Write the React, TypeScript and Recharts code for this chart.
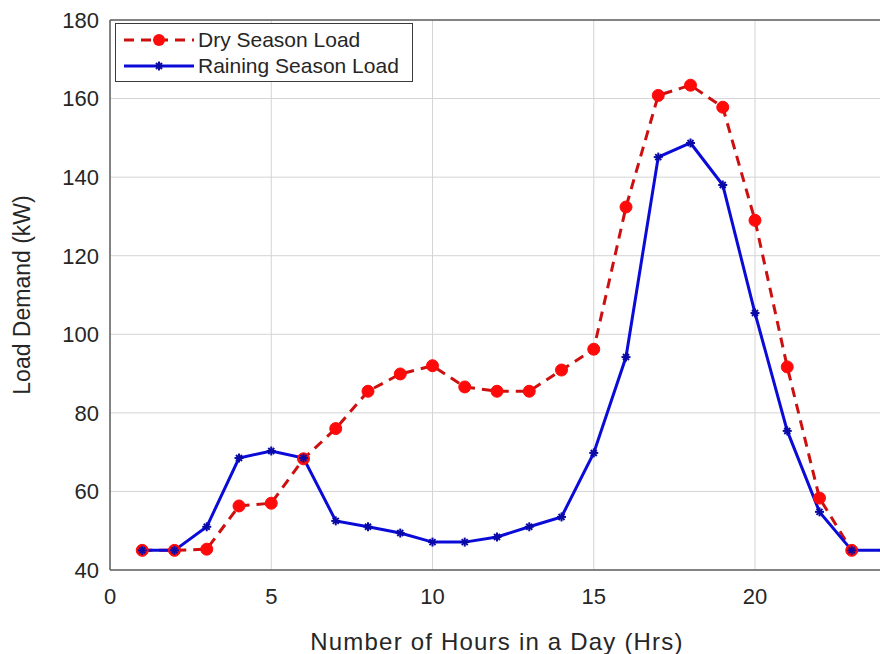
import React from "react";
import {
  CartesianGrid,
  Legend,
  Line,
  LineChart,
  ReferenceLine,
  XAxis,
  YAxis,
} from "recharts";

// hours 1..24 and the two load profiles (kW)
const hours = [1, 2, 3, 4, 5, 6, 7, 8, 9, 10, 11, 12, 13, 14, 15, 16, 17, 18, 19, 20, 21, 22, 23, 24];
const dryLoad = [
  45, 45, 45.3, 56.3, 57, 68.3, 76, 85.5, 89.9, 92, 86.6, 85.5, 85.5, 90.9, 96.2,
  132.4, 160.8, 163.4, 157.8, 129, 91.7, 58.3, 45, null,
];
const rainLoad = [
  45, 45, 51, 68.5, 70.3, 68.5, 52.5, 51, 49.4, 47.1, 47.1, 48.4, 51, 53.5, 69.8,
  94.2, 145.1, 148.7, 138, 105.4, 75.4, 54.8, 45, 45,
];
const xTicks = [0, 5, 10, 15, 20];
const yTicks = [40, 60, 80, 100, 120, 140, 160, 180];

const data = hours.map((h, i) => ({ hour: h, dry: dryLoad[i], rain: rainLoad[i] }));

const FONT = '"Liberation Sans", Arial, Helvetica, sans-serif';
const RED_LINE = "#cc1010";
const RED_DOT = "#ff0a0a";
const BLUE = "#0b0bd8";

function StarDot(props: any) {
  const { cx, cy } = props;
  if (cx == null || cy == null) return null;
  const r = 4.5;
  return (
    <g stroke="#0a0aa8" strokeWidth={2}>
      <line x1={cx - r} y1={cy} x2={cx + r} y2={cy} />
      <line x1={cx} y1={cy - r} x2={cx} y2={cy + r} />
      <line x1={cx - 3} y1={cy - 3} x2={cx + 3} y2={cy + 3} />
      <line x1={cx - 3} y1={cy + 3} x2={cx + 3} y2={cy - 3} />
    </g>
  );
}

function RoundDot(props: any) {
  const { cx, cy } = props;
  if (cx == null || cy == null) return null;
  return <circle cx={cx} cy={cy} r={6} fill={RED_DOT} stroke={RED_DOT} strokeWidth={1} />;
}

function LegendBox() {
  const row = (dry: boolean, label: string) => (
    <div style={{ display: "flex", alignItems: "center", height: 26 }}>
      <svg width={82} height={26}>
        {dry ? (
          <>
            <line x1={8} y1={13} x2={78} y2={13} stroke={RED_LINE} strokeWidth={3} strokeDasharray="10 7" />
            <circle cx={43} cy={13} r={6} fill={RED_DOT} />
          </>
        ) : (
          <>
            <line x1={8} y1={13} x2={78} y2={13} stroke={BLUE} strokeWidth={3} />
            <StarDot cx={43} cy={13} />
          </>
        )}
      </svg>
      <span style={{ fontSize: 21, color: "#262626", fontFamily: FONT, whiteSpace: "nowrap" }}>{label}</span>
    </div>
  );
  return (
    <div
      style={{
        width: 298,
        height: 59,
        boxSizing: "border-box",
        border: "1px solid #3a3a3a",
        background: "#fff",
        paddingTop: 3,
      }}
    >
      {row(true, "Dry Season Load")}
      {row(false, "Raining Season Load")}
    </div>
  );
}

export default function App() {
  return (
    <div
      style={{
        position: "absolute",
        left: 0,
        top: 0,
        width: 880,
        height: 654,
        overflow: "hidden",
        background: "#fff",
      }}
    >
      <LineChart
        width={900}
        height={654}
        data={data}
        margin={{ top: 20, right: 16, left: 0, bottom: 0 }}
        style={{ fontFamily: FONT }}
      >
        <CartesianGrid stroke="#d4d4d4" strokeWidth={1} />
        <XAxis
          dataKey="hour"
          type="number"
          domain={[0, 24]}
          ticks={xTicks}
          height={84}
          tickLine={false}
          tickSize={0}
          tickMargin={18}
          axisLine={{ stroke: "#606060", strokeWidth: 1.5 }}
          tick={{ fontSize: 22, fill: "#262626" }}
          label={{
            value: "Number of Hours in a Day (Hrs)",
            position: "insideBottom",
            offset: 4,
            style: { fontSize: 24, fill: "#262626", letterSpacing: 1.2 },
          }}
        />
        <YAxis
          type="number"
          domain={[40, 180]}
          ticks={yTicks}
          width={110}
          tickLine={false}
          tickSize={0}
          tickMargin={11}
          axisLine={{ stroke: "#606060", strokeWidth: 1.5 }}
          tick={{ fontSize: 22, fill: "#262626" }}
          label={{
            value: "Load Demand (kW)",
            angle: -90,
            position: "insideLeft",
            offset: 22,
            style: { fontSize: 23, fill: "#262626", textAnchor: "middle" },
          }}
        />
        <ReferenceLine y={180} stroke="#606060" strokeWidth={1.5} />
        <Legend
          layout="vertical"
          align="center"
          verticalAlign="middle"
          content={() => <LegendBox />}
          wrapperStyle={{ left: 115, top: 23, width: 298, height: 59 }}
        />
        <Line
          type="linear"
          dataKey="dry"
          stroke={RED_LINE}
          strokeWidth={3}
          strokeDasharray="10 7"
          dot={<RoundDot />}
          activeDot={false}
          connectNulls={false}
          isAnimationActive={false}
        />
        <Line
          type="linear"
          dataKey="rain"
          stroke={BLUE}
          strokeWidth={3}
          dot={<StarDot />}
          activeDot={false}
          isAnimationActive={false}
        />
      </LineChart>
    </div>
  );
}
